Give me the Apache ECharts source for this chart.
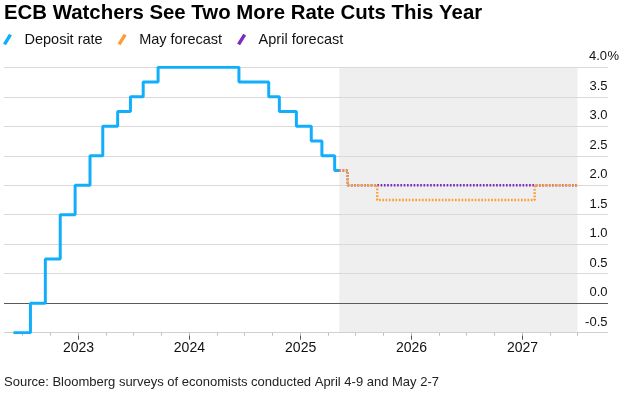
<!DOCTYPE html>
<html>
<head>
<meta charset="utf-8">
<script src="https://cdn.jsdelivr.net/npm/echarts@6/dist/echarts.min.js"></script>
<style>
  html, body { margin: 0; padding: 0; background: #fff; }
  #chart { width: 625px; height: 396px; }
</style>
</head>
<body>
<div id="chart"></div>
<script>
// ECB deposit rate (step changes)
const depositDates = ['2022-06-01', '2022-07-27', '2022-09-14', '2022-11-02', '2022-12-21', '2023-02-08',
  '2023-03-22', '2023-05-10', '2023-06-21', '2023-08-02', '2023-09-20', '2024-06-12', '2024-09-18',
  '2024-10-23', '2024-12-18', '2025-02-05', '2025-03-12', '2025-04-23', '2025-05-08'];
const depositRates = [-0.5, 0, 0.75, 1.5, 2.0, 2.5, 3.0, 3.25, 3.5, 3.75, 4.0, 3.75, 3.5, 3.25, 3.0, 2.75, 2.5, 2.25, 2.25];

// survey forecasts
const mayDates = ['2025-05-08', '2025-06-05', '2025-09-10', '2027-02-10', '2027-07-01'];
const mayRates = [2.25, 2.0, 1.75, 2.0, 2.0];
const aprilDates = ['2025-05-08', '2025-06-05', '2027-07-01'];
const aprilRates = [2.25, 2.0, 2.0];

const yearTicks = ['2023-01-01', '2024-01-01', '2025-01-01', '2026-01-01', '2027-01-01'];
const yearLabels = ['2023', '2024', '2025', '2026', '2027'];
const quarterTicks = [];
['2022', '2023', '2024', '2025', '2026', '2027'].forEach(y => {
  ['01', '04', '07', '10'].forEach(m => quarterTicks.push(y + '-' + m + '-01'));
});

const axisStart = '2022-05-01';
const axisEnd = '2027-07-01';
const forecastStart = '2025-05-08';
const yMin = -0.5, yMax = 4, yStep = 0.5;

const zip = (d, v) => d.map((x, i) => [x, v[i]]);
// same local-time parsing the time axis uses
const ts = s => { const p = s.split('-').map(Number); return new Date(p[0], p[1] - 1, p[2]).getTime(); };

const FONT = '"Liberation Sans", Arial, sans-serif';
const gridLineColors = ['#cfcfcf', '#5a5a5a', '#d9d9d9', '#d9d9d9', '#d9d9d9', '#d9d9d9', '#d9d9d9', '#d9d9d9', '#d9d9d9', '#d9d9d9'];
const slash = 'path://M0,8 L5,0 L7.4,1.5 L2.4,9.5 Z';

const chart = echarts.init(document.getElementById('chart'), null, { renderer: 'canvas' });

const option = {
  animation: false,
  backgroundColor: '#fff',
  title: [
    {
      text: 'ECB Watchers See Two More Rate Cuts This Year',
      left: 4, top: 3, padding: 0,
      textStyle: { fontFamily: FONT, fontWeight: 'bold', fontSize: 20.4, color: '#000' }
    },
    {
      text: 'Source: Bloomberg surveys of economists conducted April 4-9 and May 2-7',
      left: 4, top: 376, padding: 0,
      textStyle: { fontFamily: FONT, fontWeight: 'normal', fontSize: 13, color: '#222' }
    }
  ],
  legend: {
    left: 3, top: 32, padding: 0,
    itemWidth: 10, itemHeight: 11.5, itemGap: 15,
    icon: slash,
    itemStyle: { borderWidth: 0 },
    lineStyle: { width: 0 },
    data: ['Deposit rate', 'May forecast', 'April forecast'],
    textStyle: { fontFamily: FONT, fontSize: 14.5, color: '#111', padding: [0, 0, 0, 7] }
  },
  grid: [
    { left: 4, right: 17, top: 67.3, bottom: 63.3 },
    { left: 4, right: 47.5, top: 67.3, bottom: 63.3 }
  ],
  xAxis: [
    { gridIndex: 0, type: 'value', min: 0, max: 1, show: false },
    // data axis
    {
      gridIndex: 1, type: 'time', min: axisStart, max: axisEnd, position: 'bottom',
      axisLine: { show: false }, axisTick: { show: false }, axisLabel: { show: false },
      splitLine: { show: false }
    },
    // year ticks + labels
    {
      gridIndex: 1, type: 'value', min: ts(axisStart), max: ts(axisEnd), position: 'bottom', offset: 0,
      axisLine: { show: false },
      axisTick: { show: true, length: 7, lineStyle: { color: '#555' }, customValues: yearTicks.map(ts) },
      axisLabel: {
        customValues: yearTicks.map(ts), margin: 8,
        fontFamily: FONT, fontSize: 14, color: '#111',
        formatter: v => yearLabels[yearTicks.map(ts).indexOf(v)] || ''
      },
      splitLine: { show: false }
    },
    // quarter ticks
    {
      gridIndex: 1, type: 'value', min: ts(axisStart), max: ts(axisEnd), position: 'bottom', offset: 0,
      axisLine: { show: false },
      axisTick: { show: true, length: 3, lineStyle: { color: '#bbbbbb' }, customValues: quarterTicks.map(ts) },
      axisLabel: { show: false },
      splitLine: { show: false }
    }
  ],
  yAxis: [
    {
      gridIndex: 0, type: 'value', min: yMin, max: yMax, interval: yStep, z: 3,
      axisLine: { show: false }, axisTick: { show: false }, axisLabel: { show: false },
      splitLine: { show: true, lineStyle: { color: gridLineColors, width: 1 } }
    },
    {
      gridIndex: 1, type: 'value', min: yMin, max: yMax, interval: yStep, position: 'right',
      axisLine: { show: false }, axisTick: { show: false }, splitLine: { show: false },
      axisLabel: {
        margin: 11, verticalAlign: 'middle', padding: [0, 0, 21, 0],
        fontFamily: FONT, fontSize: 13, color: '#111',
        formatter: v => v === yMax ? '{n|' + v.toFixed(1) + '}{p|%}' : '{n|' + v.toFixed(1) + '}',
        rich: {
          n: { width: 19, align: 'right', fontFamily: FONT, fontSize: 13, color: '#111' },
          p: { fontFamily: FONT, fontSize: 13, color: '#111' }
        }
      }
    }
  ],
  series: [
    {
      name: 'shade', type: 'line', xAxisIndex: 1, yAxisIndex: 1, data: [], z: 1, silent: true,
      markArea: {
        silent: true,
        itemStyle: { color: '#efefef' },
        data: [[{ xAxis: forecastStart, yAxis: yMin }, { xAxis: axisEnd, yAxis: yMax }]]
      }
    },
    {
      name: 'April forecast', type: 'line', xAxisIndex: 1, yAxisIndex: 1, z: 5,
      step: 'end', showSymbol: false, symbol: 'none', color: '#7b2cbf',
      lineStyle: { width: 2.5, type: [1.7, 1.6], color: '#7b2cbf' },
      data: zip(aprilDates, aprilRates)
    },
    {
      name: 'May forecast', type: 'line', xAxisIndex: 1, yAxisIndex: 1, z: 6,
      step: 'end', showSymbol: false, symbol: 'none', color: '#fb9f35',
      lineStyle: { width: 2.5, type: [1.7, 1.6], color: '#fb9f35' },
      data: zip(mayDates, mayRates)
    },
    {
      name: 'Deposit rate', type: 'line', xAxisIndex: 1, yAxisIndex: 1, z: 7,
      step: 'end', showSymbol: false, symbol: 'none', color: '#12aefc',
      lineStyle: { width: 3, color: '#12aefc' },
      data: zip(depositDates, depositRates)
    }
  ]
};

chart.setOption(option);
</script>
</body>
</html>
